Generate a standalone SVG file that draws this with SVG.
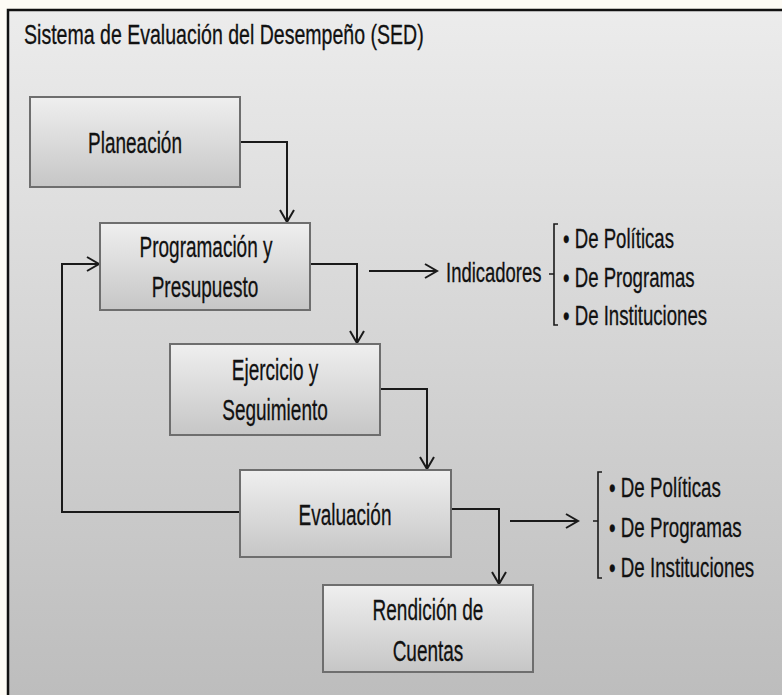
<svg xmlns="http://www.w3.org/2000/svg" width="782" height="695" viewBox="0 0 782 695">
<defs>
<linearGradient id="panelGrad" x1="0" y1="0" x2="0" y2="1">
<stop offset="0" stop-color="#ececec"/>
<stop offset="1" stop-color="#bdbdbd"/>
</linearGradient>
<linearGradient id="boxGrad" x1="0" y1="0" x2="0" y2="1">
<stop offset="0" stop-color="#efefef"/>
<stop offset="1" stop-color="#c6c6c6"/>
</linearGradient>
<marker id="arr" markerUnits="userSpaceOnUse" markerWidth="16" markerHeight="18" refX="13" refY="8" orient="auto">
<path d="M1,1 L13,8 L1,15" fill="none" stroke="#1a1a1a" stroke-width="2"/>
</marker>
</defs>
<style>
.box{fill:url(#boxGrad);stroke:#6e6e6e;stroke-width:2}
.t{font-family:"Liberation Sans",Arial,sans-serif;fill:#111;stroke:#111;stroke-width:0.3}
.bt{font-size:29px;text-anchor:middle}
.it{font-size:28px}
.ln{fill:none;stroke:#1a1a1a;stroke-width:2}
.br{fill:none;stroke:#1a1a1a;stroke-width:1.6}
</style>
<rect x="0" y="0" width="782" height="695" fill="#fdfbf5"/>
<rect x="7" y="9" width="775" height="686" fill="url(#panelGrad)"/>
<path d="M8,695 V10 H782" fill="none" stroke="#111" stroke-width="2.5"/>
<text class="t" font-size="27" transform="translate(24,44) scale(0.724,1)">Sistema de Evaluación del Desempeño (SED)</text>

<g id="connectors">
<path class="ln" d="M240,142 H287 V222" marker-end="url(#arr)"/>
<path class="ln" d="M310,264 H357 V343" marker-end="url(#arr)"/>
<path class="ln" d="M369,271 H437" marker-end="url(#arr)"/>
<path class="ln" d="M380,389 H427 V469" marker-end="url(#arr)"/>
<path class="ln" d="M240,512 H62 V264 H99" marker-end="url(#arr)"/>
<path class="ln" d="M451,509 H499 V584" marker-end="url(#arr)"/>
<path class="ln" d="M510,521 H578" marker-end="url(#arr)"/>
</g>

<g id="planeacion">
<rect class="box" x="30" y="97" width="210" height="90"/>
<text class="t bt" transform="translate(135,153) scale(0.655,1)">Planeación</text>
</g>
<g id="programacion">
<rect class="box" x="100" y="223" width="210" height="87"/>
<text class="t bt" transform="translate(206,257) scale(0.655,1)">Programación y</text>
<text class="t bt" transform="translate(205,297) scale(0.655,1)">Presupuesto</text>
</g>
<g id="ejercicio">
<rect class="box" x="170" y="344" width="210" height="91"/>
<text class="t bt" transform="translate(275,380) scale(0.655,1)">Ejercicio y</text>
<text class="t bt" transform="translate(275,420) scale(0.655,1)">Seguimiento</text>
</g>
<g id="evaluacion">
<rect class="box" x="240" y="470" width="211" height="87"/>
<text class="t bt" transform="translate(345,525) scale(0.655,1)">Evaluación</text>
</g>
<g id="rendicion">
<rect class="box" x="323" y="585" width="210" height="87"/>
<text class="t bt" transform="translate(428,620) scale(0.655,1)">Rendición de</text>
<text class="t bt" transform="translate(428,661) scale(0.655,1)">Cuentas</text>
</g>

<g id="indicadores">
<text class="t it" transform="translate(446,282) scale(0.66,1)">Indicadores</text>
<path class="br" d="M558,224 H554 V325 H558 M554,274 H549"/>
<text class="t it" transform="translate(563,248) scale(0.665,1)">• De Políticas</text>
<text class="t it" transform="translate(563,287) scale(0.665,1)">• De Programas</text>
<text class="t it" transform="translate(563,325) scale(0.665,1)">• De Instituciones</text>
</g>
<g id="evaluacion-list">
<path class="br" d="M602,472 H598 V578 H602 M598,521 H593"/>
<text class="t it" transform="translate(609,497) scale(0.67,1)">• De Políticas</text>
<text class="t it" transform="translate(609,537) scale(0.67,1)">• De Programas</text>
<text class="t it" transform="translate(609,577) scale(0.67,1)">• De Instituciones</text>
</g>
</svg>
